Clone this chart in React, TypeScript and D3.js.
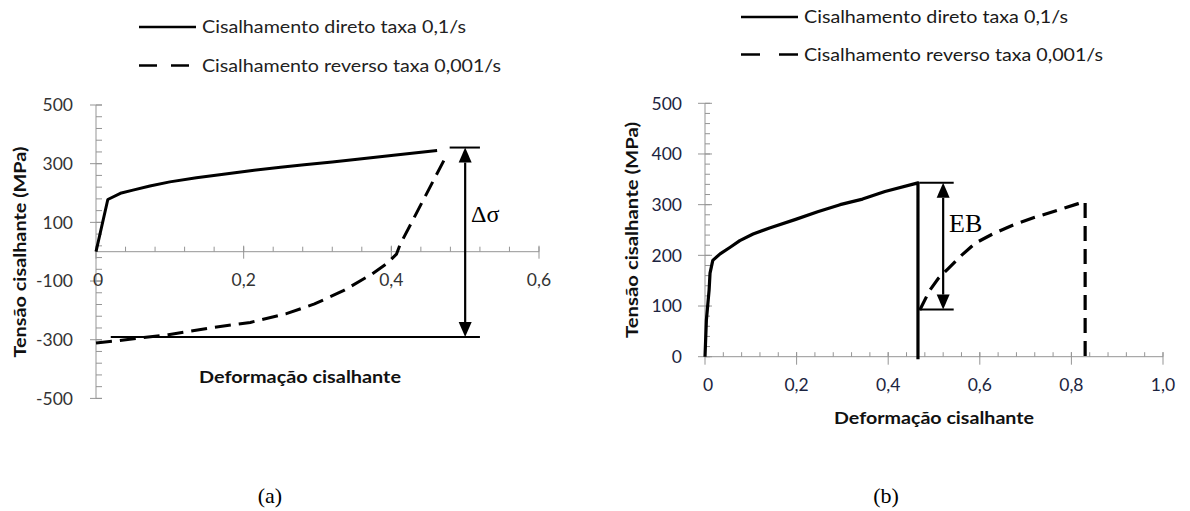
import React from "react";
import * as d3 from "d3";

// ---------- Data ----------
// Panel (a)
const aDirectX = [0, 0.016, 0.033, 0.05, 0.073, 0.1, 0.136, 0.17, 0.209, 0.25, 0.282, 0.32, 0.354, 0.403, 0.462];
const aDirectY = [0, 178, 199, 210, 224, 238, 252, 263, 276, 288, 296, 306, 315, 329, 345];
const aReverseX = [0, 0.03, 0.098, 0.16, 0.209, 0.257, 0.296, 0.335, 0.374, 0.395, 0.407, 0.412, 0.472];
const aReverseY = [-311, -303, -283, -258, -241, -212, -178, -133, -76, -38, -8, 25, 315];
const aXTicks = [0, 0.2, 0.4, 0.6];
const aXTickLabels = ["0", "0,2", "0,4", "0,6"];
const aYTicks = [500, 300, 100, -100, -300, -500];
const aDeltaTop = 355;
const aDeltaBottom = -291;
const aDeltaX = 0.5;

// Panel (b)
const bDirectX = [0, 0.003, 0.009, 0.011, 0.017, 0.033, 0.055, 0.076, 0.105, 0.141, 0.198, 0.246, 0.295, 0.344, 0.393, 0.465, 0.465];
const bDirectY = [0, 72, 132, 165, 190, 203, 216, 229, 242, 254, 271, 286, 300, 311, 326, 343, -5];
const bReverseX = [0.469, 0.49, 0.51, 0.53, 0.56, 0.59, 0.63, 0.673, 0.72, 0.77, 0.815, 0.83, 0.83];
const bReverseY = [92, 130, 155, 173, 200, 224, 243, 260, 275, 289, 302, 306, -5];
const bXTicks = [0, 0.2, 0.4, 0.6, 0.8, 1.0];
const bXTickLabels = ["0", "0,2", "0,4", "0,6", "0,8", "1,0"];
const bYTicks = [0, 100, 200, 300, 400, 500];
const bEBTop = 343;
const bEBBottom = 93;
const bEBX = 0.52;

const legendLabels = ["Cisalhamento direto taxa 0,1/s", "Cisalhamento reverso taxa 0,001/s"];
const xTitle = "Deformação cisalhante";
const yTitle = "Tensão cisalhante (MPa)";

const FONT = "Lato, 'Open Sans', sans-serif";
const SERIF = "'Liberation Serif', 'DejaVu Serif', serif";
const AXIS = "#959595";

type Pt = [number, number];
const zip = (xs: number[], ys: number[]): Pt[] => xs.map((x, i) => [x, ys[i]]);

function Arrow({ x, y1, y2 }: { x: number; y1: number; y2: number }) {
  const h = 15, w = 6.5;
  return (
    <g>
      <line x1={x} x2={x} y1={y1 + h} y2={y2 - h} stroke="#000" strokeWidth={2.2} />
      <path d={`M${x},${y1} L${x - w},${y1 + h} L${x + w},${y1 + h} Z`} fill="#000" />
      <path d={`M${x},${y2} L${x - w},${y2 - h} L${x + w},${y2 - h} Z`} fill="#000" />
    </g>
  );
}

function Legend({ x, y, gap, lineW, dash, color }: { x: number; y: number; gap: number; lineW: number; dash: string; color: string }) {
  const lens = [264, 299];
  return (
    <g>
      {legendLabels.map((l, i) => (
        <g key={l} transform={`translate(${x},${y + i * gap})`}>
          <line x1={0} x2={lineW} y1={0} y2={0} stroke="#000" strokeWidth={2.6} strokeDasharray={i === 1 ? dash : undefined} />
          <text x={lineW + 6} y={0} dy="0.36em" fontFamily={FONT} fontSize={18} fill={color}
            textLength={lens[i]} lengthAdjust="spacingAndGlyphs">{l}</text>
        </g>
      ))}
    </g>
  );
}

function PanelA() {
  const x = d3.scaleLinear().domain([0, 0.6]).range([96, 539]);
  const y = d3.scaleLinear().domain([-500, 500]).range([398.4, 105]);
  const line = d3.line<Pt>().x((d) => x(d[0])).y((d) => y(d[1]));
  const minorX = d3.range(0, 0.6001, 0.04);
  const minorY = d3.range(-500, 500.01, 40);
  return (
    <g>
      <Legend x={139} y={27} gap={38.5} lineW={57} dash="18 14" color="#222" />
      {/* y axis */}
      <line x1={x(0)} x2={x(0)} y1={y(500)} y2={y(-500)} stroke={AXIS} strokeWidth={1} />
      {minorY.map((v) => (
        <line key={"ym" + v} x1={x(0)} x2={x(0) + 6} y1={y(v)} y2={y(v)} stroke={AXIS} />
      ))}
      {aYTicks.map((v) => (
        <g key={"y" + v}>
          <line x1={x(0) - 6} x2={x(0) + 6} y1={y(v)} y2={y(v)} stroke={AXIS} />
          <text x={73} y={y(v)} dy="0.36em" textAnchor="end" fontFamily={FONT} fontSize={17.5} fill="#333">{v}</text>
        </g>
      ))}
      {/* x axis */}
      <line x1={x(0)} x2={x(0.6)} y1={y(0)} y2={y(0)} stroke={AXIS} strokeWidth={1} />
      {minorX.map((v) => (
        <line key={"xm" + v} x1={x(v)} x2={x(v)} y1={y(0) - 5} y2={y(0)} stroke={AXIS} />
      ))}
      {aXTicks.map((v, i) => (
        <g key={"x" + v}>
          <line x1={x(v)} x2={x(v)} y1={y(0) - 6} y2={y(0) + 7} stroke={AXIS} />
          <text x={x(v) + (i === 0 ? 2 : 0)} y={286} textAnchor="middle" fontFamily={FONT} fontSize={17.5} fill="#333">{aXTickLabels[i]}</text>
        </g>
      ))}
      {/* titles */}
      <text transform={`translate(26,252) rotate(-90)`} textAnchor="middle" fontFamily={FONT} fontWeight="bold" fontSize={17.5} fill="#111"
        textLength={211} lengthAdjust="spacingAndGlyphs">{yTitle}</text>
      <text x={300} y={383} textAnchor="middle" fontFamily={FONT} fontWeight="bold" fontSize={17.5} fill="#111"
        textLength={202} lengthAdjust="spacingAndGlyphs">{xTitle}</text>
      {/* series */}
      <path d={line(zip(aReverseX, aReverseY)) || ""} fill="none" stroke="#000" strokeWidth={3} strokeDasharray="16 8" />
      <path d={line(zip(aDirectX, aDirectY)) || ""} fill="none" stroke="#000" strokeWidth={3} strokeLinejoin="round" />
      {/* delta sigma annotation */}
      <line x1={x(0.479)} x2={x(0.52)} y1={y(aDeltaTop)} y2={y(aDeltaTop)} stroke="#000" strokeWidth={2} />
      <line x1={x(0.02)} x2={x(0.52)} y1={y(aDeltaBottom)} y2={y(aDeltaBottom)} stroke="#000" strokeWidth={2} />
      <Arrow x={x(aDeltaX)} y1={y(aDeltaTop)} y2={y(aDeltaBottom)} />
      <text x={471} y={222} fontFamily={SERIF} fontSize={24} fill="#000">Δσ</text>
    </g>
  );
}

function PanelB() {
  const x = d3.scaleLinear().domain([0, 1]).range([705, 1163]);
  const y = d3.scaleLinear().domain([0, 500]).range([356.7, 103.3]);
  const line = d3.line<Pt>().x((d) => x(d[0])).y((d) => y(d[1]));
  const minorX = d3.range(0, 1.0001, 0.04);
  const minorY = d3.range(0, 500.01, 20);
  const lblColor = "#1c2440";
  return (
    <g>
      <Legend x={741} y={17} gap={37.5} lineW={57} dash="19 19" color="#1a1a1a" />
      <line x1={x(0)} x2={x(0)} y1={y(500)} y2={y(0)} stroke={AXIS} />
      {minorY.map((v) => (
        <line key={"ym" + v} x1={x(0)} x2={x(0) + 5} y1={y(v)} y2={y(v)} stroke={AXIS} />
      ))}
      {bYTicks.map((v) => (
        <g key={"y" + v}>
          <line x1={x(0) - 7} x2={x(0) + 7} y1={y(v)} y2={y(v)} stroke={AXIS} />
          <text x={682} y={y(v)} dy="0.36em" textAnchor="end" fontFamily={FONT} fontSize={17.5} fill={lblColor}>{v}</text>
        </g>
      ))}
      <line x1={x(0)} x2={x(1)} y1={y(0)} y2={y(0)} stroke={AXIS} />
      {minorX.map((v) => (
        <line key={"xm" + v} x1={x(v)} x2={x(v)} y1={y(0) - 4.5} y2={y(0)} stroke={AXIS} />
      ))}
      {bXTicks.map((v, i) => (
        <g key={"x" + v}>
          <line x1={x(v)} x2={x(v)} y1={y(0) - 4.5} y2={y(0) + 8} stroke={AXIS} />
          <text x={x(v) + (i === 0 ? 3 : 0)} y={391} textAnchor="middle" fontFamily={FONT} fontSize={17.5} fill={lblColor}>{bXTickLabels[i]}</text>
        </g>
      ))}
      <text transform={`translate(638,230) rotate(-90)`} textAnchor="middle" fontFamily={FONT} fontWeight="bold" fontSize={17.5} fill="#111"
        textLength={216} lengthAdjust="spacingAndGlyphs">{yTitle}</text>
      <text x={934} y={424} textAnchor="middle" fontFamily={FONT} fontWeight="bold" fontSize={17.5} fill="#111"
        textLength={200} lengthAdjust="spacingAndGlyphs">{xTitle}</text>
      <path d={line(zip(bReverseX, bReverseY)) || ""} fill="none" stroke="#000" strokeWidth={3.2} strokeDasharray="15 8" />
      <path d={line(zip(bDirectX, bDirectY)) || ""} fill="none" stroke="#000" strokeWidth={3.2} strokeLinejoin="round" />
      <line x1={x(0.468)} x2={x(0.543)} y1={y(bEBTop)} y2={y(bEBTop)} stroke="#000" strokeWidth={2} />
      <line x1={x(0.468)} x2={x(0.543)} y1={y(bEBBottom)} y2={y(bEBBottom)} stroke="#000" strokeWidth={2} />
      <Arrow x={x(bEBX)} y1={y(bEBTop)} y2={y(bEBBottom)} />
      <text x={949} y={232} fontFamily={SERIF} fontSize={26} fill="#000">EB</text>
    </g>
  );
}

export default function App() {
  return (
    <svg width={1190} height={511} style={{ position: "absolute", left: 0, top: 0, background: "#fff" }}>
      <rect width={1190} height={511} fill="#fff" />
      <PanelA />
      <PanelB />
      <text x={270} y={503} textAnchor="middle" fontFamily={SERIF} fontSize={22} fill="#000">(a)</text>
      <text x={886} y={503} textAnchor="middle" fontFamily={SERIF} fontSize={22} fill="#000">(b)</text>
    </svg>
  );
}
